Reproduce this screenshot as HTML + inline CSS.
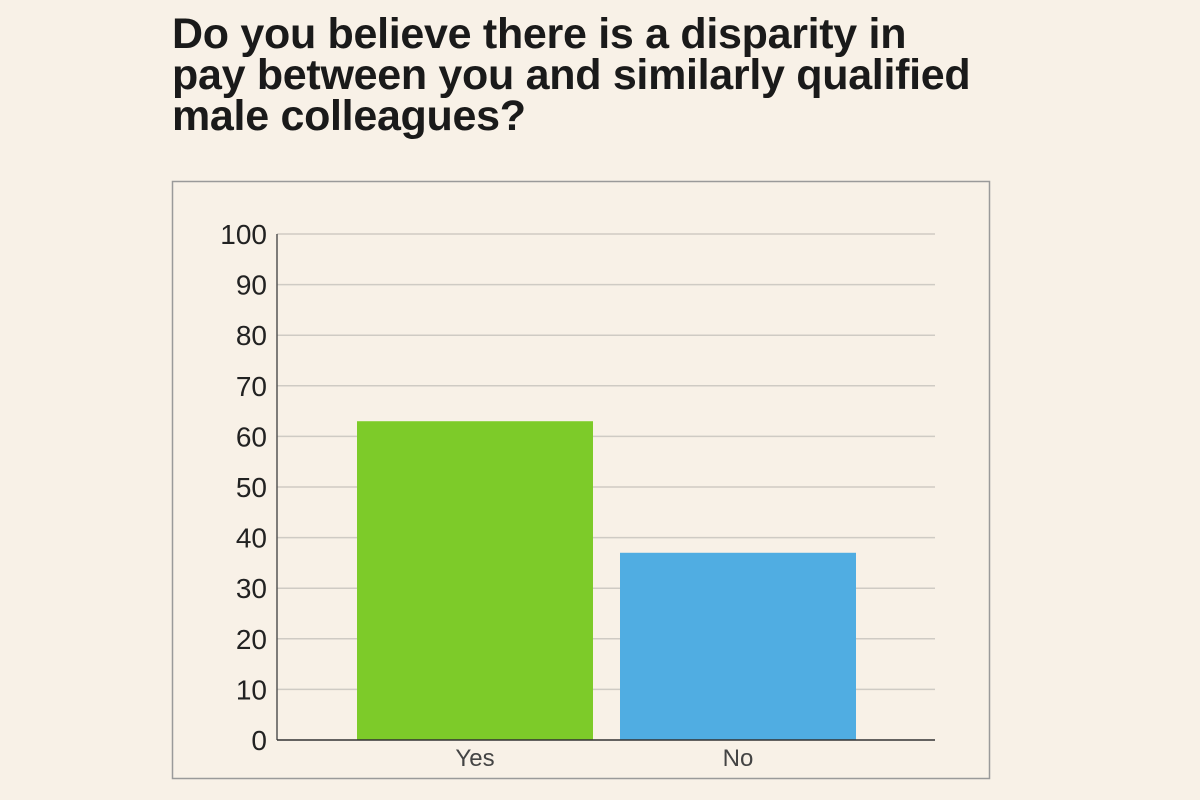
<!DOCTYPE html>
<html><head><meta charset="utf-8"><style>
body{margin:0;width:1200px;height:800px;background:#f8f1e7;overflow:hidden;font-family:"Liberation Sans Narrow","Liberation Sans",sans-serif;}
h1{position:absolute;left:172px;top:14px;margin:0;font-size:43px;line-height:41px;font-weight:bold;color:#1a1a1a;letter-spacing:-0.3px;font-family:"Liberation Sans Narrow","Liberation Sans",sans-serif;}
svg{position:absolute;left:0;top:0}
</style></head><body>
<h1>Do you believe there is a disparity in<br>pay between you and similarly qualified<br>male colleagues?</h1>
<svg id="c" width="1200" height="800">
<rect x="172.5" y="181.5" width="817" height="597" fill="none" stroke="#9a9a9a" stroke-width="1.5"/>
</svg>
<script>
const categories=["Yes","No"];
const values=[63,37];
const colors=["#7dcb29","#50ade2"];
const ticks=[0,10,20,30,40,50,60,70,80,90,100];
const ns="http://www.w3.org/2000/svg";
const svg=document.getElementById('c');
const x0=277,x1=935,y0=740,y1=234;
const y=v=>y0-(v/100)*(y0-y1);
function mk(t,a){const e=document.createElementNS(ns,t);for(const k in a)e.setAttribute(k,a[k]);svg.appendChild(e);return e;}
ticks.forEach(t=>{
 if(t>0){const g=mk('line',{x1:x0,x2:x1,y1:y(t),y2:y(t),stroke:'#cfcbc4','stroke-width':1.5});
 
 }
 const l=mk('text',{x:267,y:y(t)+10,'text-anchor':'end','font-size':28,fill:'#222','font-family':'"Liberation Sans Narrow","Liberation Sans",sans-serif'});
 l.textContent=t;
 
 
});
const bw=236, starts=[357,620];
categories.forEach((c,i)=>{
 const b=mk('rect',{x:starts[i],y:y(values[i]),width:bw,height:y0-y(values[i]),fill:colors[i]});
 
 
 const t=mk('text',{x:starts[i]+bw/2,y:766,'text-anchor':'middle','font-size':24,fill:'#444','font-family':'"Liberation Sans Narrow","Liberation Sans",sans-serif'});
 t.textContent=c;
 
 
});
const ya=mk('line',{x1:x0,x2:x0,y1:y1,y2:y0,stroke:'#555','stroke-width':1.5});


const xa=mk('line',{x1:x0,x2:x1,y1:y0,y2:y0,stroke:'#333','stroke-width':1.5});


</script>
</body></html>
